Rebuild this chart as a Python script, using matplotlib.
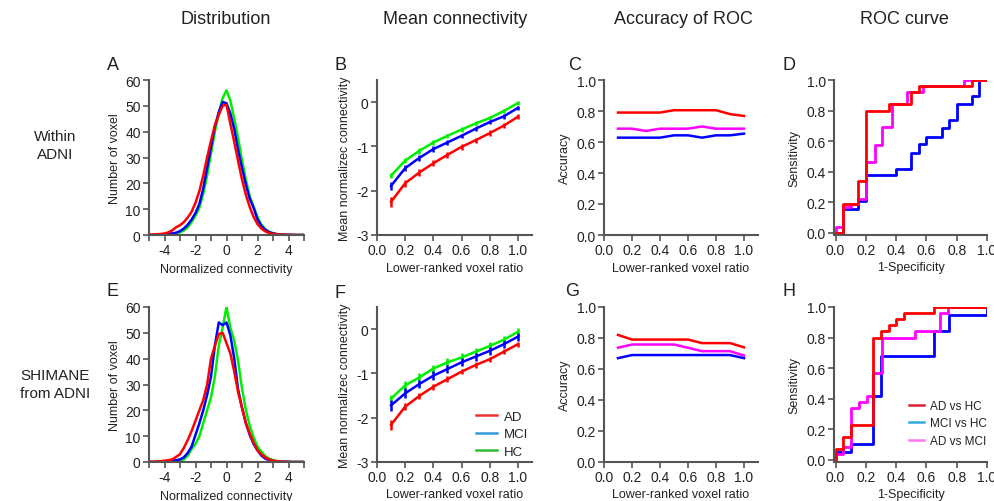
import matplotlib
matplotlib.use('Agg')
import matplotlib.pyplot as plt
from matplotlib.lines import Line2D

plt.rcParams['font.family'] = ['Liberation Sans', 'DejaVu Sans']
plt.rcParams['axes.unicode_minus'] = False

# ---- data ----
conn_x = [-5, -4.75, -4.5, -4.25, -4, -3.75, -3.5, -3.25, -3, -2.75, -2.5, -2.25, -2, -1.75,
          -1.5, -1.25, -1, -0.75, -0.5, -0.25, 0, 0.25, 0.5, 0.75, 1, 1.25, 1.5, 1.75,
          2, 2.25, 2.5, 2.75, 3, 3.25, 3.5, 3.75, 4, 4.25, 4.5, 4.75, 5]

# panel A (within ADNI)
dist_a_hc = [0, 0, 0.1, 0.1, 0.2, 0.3, 0.4, 0.6, 1.0, 1.7, 3.0, 5.0, 7.5, 10.5,
             16, 23, 31.5, 40, 47, 53, 56, 52, 45, 37.5, 29, 21.5, 15, 11,
             7, 4, 2.3, 1.3, 0.7, 0.4, 0.2, 0.1, 0.1, 0, 0, 0, 0]
dist_a_mci = [0, 0, 0.1, 0.2, 0.3, 0.4, 0.6, 0.9, 1.5, 2.5, 4, 6, 8.5, 12,
              18, 26, 34, 42, 47.5, 51.5, 51, 47, 41, 33, 26, 19.5, 14, 10.5,
              6, 3.5, 2, 1.1, 0.6, 0.3, 0.2, 0.1, 0, 0, 0, 0, 0]
dist_a_ad = [0.2, 0.2, 0.3, 0.4, 0.6, 1.0, 1.8, 3.0, 3.8, 5, 6.8, 9, 12.5, 17,
             23, 30, 36.5, 42.5, 46.5, 50, 50.5, 43, 36, 28.5, 21.5, 15.5, 10.8, 7,
             4.2, 2.5, 1.4, 0.8, 0.4, 0.3, 0.2, 0.1, 0.1, 0.1, 0, 0, 0]

# panel E (SHIMANE from ADNI)
dist_e_hc = [0, 0, 0, 0.1, 0.1, 0.2, 0.3, 0.4, 0.5, 1.0, 2.5, 5, 7, 10,
             15, 20, 25, 33, 45, 52, 60, 52, 47, 39, 28.5, 20, 14, 9.5,
             6, 4, 2.3, 1.3, 0.7, 0.4, 0.2, 0.1, 0.1, 0, 0, 0, 0]
dist_e_mci = [0, 0, 0.1, 0.1, 0.2, 0.3, 0.5, 0.7, 1.0, 1.8, 3.5, 6, 10.5, 15,
              20, 26, 33, 45, 54, 53, 54, 49, 40, 28, 21, 15, 10.5, 7,
              4.5, 2.5, 1.3, 0.8, 0.4, 0.2, 0.1, 0.1, 0, 0, 0, 0, 0]
dist_e_ad = [0.1, 0.1, 0.2, 0.3, 0.5, 0.7, 1.0, 2.0, 3.0, 5.5, 8.5, 12, 16, 20,
             24, 30, 40, 45, 49.5, 50, 46, 42, 35, 27, 21, 15, 11, 7.5,
             4.5, 3, 1.8, 1.0, 0.5, 0.3, 0.2, 0.1, 0.1, 0, 0, 0, 0]

ratio = [0.1, 0.2, 0.3, 0.4, 0.5, 0.6, 0.7, 0.8, 0.9, 1.0]

# panel B
mean_b_hc = [-1.66, -1.32, -1.10, -0.91, -0.76, -0.62, -0.48, -0.36, -0.20, -0.02]
mean_b_mci = [-1.89, -1.49, -1.26, -1.06, -0.91, -0.76, -0.60, -0.45, -0.32, -0.13]
mean_b_ad = [-2.25, -1.83, -1.59, -1.38, -1.19, -1.01, -0.86, -0.70, -0.53, -0.33]
err_b_hc = [0.06, 0.06, 0.06, 0.06, 0.05, 0.05, 0.05, 0.05, 0.05, 0.05]
err_b_mci = [0.09, 0.07, 0.06, 0.06, 0.06, 0.05, 0.05, 0.05, 0.05, 0.05]
err_b_ad = [0.11, 0.08, 0.07, 0.07, 0.07, 0.06, 0.06, 0.06, 0.06, 0.06]

# panel F
mean_f_hc = [-1.57, -1.27, -1.09, -0.89, -0.75, -0.64, -0.51, -0.38, -0.24, -0.06]
mean_f_mci = [-1.72, -1.45, -1.24, -1.05, -0.90, -0.75, -0.62, -0.49, -0.34, -0.17]
mean_f_ad = [-2.16, -1.75, -1.51, -1.30, -1.13, -0.96, -0.81, -0.68, -0.51, -0.34]
err_f_hc = [0.09, 0.1, 0.1, 0.09, 0.09, 0.09, 0.09, 0.09, 0.09, 0.09]
err_f_mci = [0.12, 0.11, 0.1, 0.1, 0.1, 0.09, 0.09, 0.09, 0.09, 0.09]
err_f_ad = [0.11, 0.08, 0.07, 0.07, 0.07, 0.06, 0.06, 0.06, 0.06, 0.06]

# panel C / G: accuracy
acc_c_adhc = [0.79, 0.79, 0.79, 0.79, 0.805, 0.805, 0.805, 0.805, 0.78, 0.768]
acc_c_admci = [0.686, 0.686, 0.671, 0.686, 0.686, 0.686, 0.70, 0.686, 0.686, 0.686]
acc_c_mcihc = [0.628, 0.628, 0.628, 0.628, 0.643, 0.643, 0.628, 0.643, 0.643, 0.654]
acc_g_adhc = [0.82, 0.79, 0.79, 0.79, 0.79, 0.79, 0.767, 0.767, 0.767, 0.74]
acc_g_admci = [0.737, 0.758, 0.758, 0.758, 0.758, 0.737, 0.715, 0.715, 0.715, 0.687]
acc_g_mcihc = [0.67, 0.69, 0.69, 0.69, 0.69, 0.69, 0.69, 0.69, 0.69, 0.67]

# panel D / H: ROC curves (fpr, tpr at each step)
fpr_d_adhc = [0, 0.05, 0.15, 0.2, 0.35, 0.5, 0.55, 0.9, 1.0]
tpr_d_adhc = [0, 0.19, 0.34, 0.80, 0.84, 0.92, 0.96, 1.0, 1.0]
fpr_d_admci = [0, 0, 0.05, 0.1, 0.15, 0.2, 0.26, 0.31, 0.37, 0.47, 0.58, 0.85, 1.0]
tpr_d_admci = [0, 0.035, 0.17, 0.19, 0.22, 0.46, 0.575, 0.69, 0.84, 0.92, 0.96, 1.0, 1.0]
fpr_d_mcihc = [0, 0.05, 0.15, 0.2, 0.4, 0.5, 0.55, 0.6, 0.7, 0.75, 0.8, 0.9, 0.95, 1.0]
tpr_d_mcihc = [0, 0.155, 0.21, 0.375, 0.42, 0.525, 0.58, 0.63, 0.685, 0.74, 0.845, 0.895, 1.0, 1.0]

fpr_h_adhc = [0, 0, 0.05, 0.1, 0.25, 0.3, 0.35, 0.4, 0.45, 0.65, 1.0]
tpr_h_adhc = [0, 0.07, 0.15, 0.23, 0.80, 0.84, 0.88, 0.92, 0.96, 1.0, 1.0]
fpr_h_admci = [0, 0, 0.05, 0.1, 0.155, 0.21, 0.25, 0.305, 0.525, 0.69, 0.74, 1.0]
tpr_h_admci = [0, 0.04, 0.08, 0.34, 0.38, 0.42, 0.57, 0.80, 0.84, 0.96, 1.0, 1.0]
fpr_h_mcihc = [0, 0, 0.1, 0.25, 0.3, 0.65, 0.75, 1.0, 1.0]
tpr_h_mcihc = [0, 0.05, 0.10, 0.42, 0.68, 0.84, 0.95, 0.95, 1.0]

RED, BLUE, GREEN, MAG = '#ff0000', '#0000ff', '#00ee00', '#ff00ff'
SPINE = '#555555'
W, H = 994, 502


def px_axes(fig, x0, y0, x1, y1):
    return fig.add_axes([x0 / W, 1 - y1 / H, (x1 - x0) / W, (y1 - y0) / H])


def style(ax):
    for s in ['top', 'right']:
        ax.spines[s].set_visible(False)
    for s in ['left', 'bottom']:
        ax.spines[s].set_color(SPINE)
        ax.spines[s].set_linewidth(1.5)
    ax.tick_params(which='both', direction='out', color=SPINE, width=1.2,
                   labelsize=10, labelcolor='#222222', pad=2)
    ax.tick_params(which='major', length=4)
    ax.tick_params(which='minor', length=4)


fig = plt.figure(figsize=(W / 100, H / 100), dpi=100)

rows = [(81, 236), (308, 463)]
cols = [(149, 304), (377, 532), (604, 758), (834, 987)]

dists = [(dist_a_hc, dist_a_mci, dist_a_ad), (dist_e_hc, dist_e_mci, dist_e_ad)]
means = [(mean_b_hc, mean_b_mci, mean_b_ad, err_b_hc, err_b_mci, err_b_ad),
         (mean_f_hc, mean_f_mci, mean_f_ad, err_f_hc, err_f_mci, err_f_ad)]
accs = [(acc_c_adhc, acc_c_mcihc, acc_c_admci), (acc_g_adhc, acc_g_mcihc, acc_g_admci)]
rocs = [((fpr_d_adhc, tpr_d_adhc), (fpr_d_mcihc, tpr_d_mcihc), (fpr_d_admci, tpr_d_admci)),
        ((fpr_h_adhc, tpr_h_adhc), (fpr_h_mcihc, tpr_h_mcihc), (fpr_h_admci, tpr_h_admci))]

lab_fs = 9
ticks01 = [0, 0.2, 0.4, 0.6, 0.8, 1.0]
labels01 = ['0.0', '0.2', '0.4', '0.6', '0.8', '1.0']

for r, (y0, y1) in enumerate(rows):
    # distribution
    ax = px_axes(fig, cols[0][0], y0, cols[0][1], y1)
    hc, mci, ad = dists[r]
    ax.plot(conn_x, hc, color=GREEN, lw=1.8)
    ax.plot(conn_x, mci, color=BLUE, lw=1.8)
    ax.plot(conn_x, ad, color=RED, lw=1.8)
    ax.set_xlim(-5, 5)
    ax.set_ylim(0, 60)
    ax.set_xticks([-4, -2, 0, 2, 4])
    ax.set_xticks([-5, -3, -1, 1, 3, 5], minor=True)
    ax.set_yticks([0, 10, 20, 30, 40, 50, 60])
    style(ax)
    ax.set_ylabel('Number of voxel', fontsize=lab_fs, color='#222222', labelpad=3)
    ax.set_xlabel('Normalized connectivity', fontsize=lab_fs, color='#222222', labelpad=4)

    # mean connectivity
    ax = px_axes(fig, cols[1][0], y0, cols[1][1], y1)
    hc, mci, ad, ehc, emci, ead = means[r]
    ax.errorbar(ratio, hc, yerr=ehc, color=GREEN, lw=1.8, elinewidth=1.8, capsize=0)
    ax.errorbar(ratio, mci, yerr=emci, color=BLUE, lw=1.8, elinewidth=1.8, capsize=0)
    ax.errorbar(ratio, ad, yerr=ead, color=RED, lw=1.8, elinewidth=1.8, capsize=0)
    ax.set_xlim(0, 1.1)
    ax.set_ylim(-3, 0.5)
    ax.set_xticks(ticks01)
    ax.set_xticklabels(labels01)
    ax.set_yticks([-3, -2, -1, 0])
    style(ax)
    ax.set_ylabel('Mean normalizec connectivity', fontsize=lab_fs, color='#222222', labelpad=4)
    ax.set_xlabel('Lower-ranked voxel ratio', fontsize=lab_fs, color='#222222', labelpad=3)
    if r == 1:
        handles = [Line2D([], [], color='#ee3333', lw=1.8),
                   Line2D([], [], color='#3399dd', lw=1.8),
                   Line2D([], [], color='#33bb33', lw=1.8)]
        ax.legend(handles, ['AD', 'MCI', 'HC'], loc='lower right', frameon=False,
                  fontsize=9.5, handlelength=1.6, handletextpad=0.5, labelspacing=0.4,
                  labelcolor='#222222', bbox_to_anchor=(1.05, -0.05))

    # accuracy
    ax = px_axes(fig, cols[2][0], y0, cols[2][1], y1)
    adhc, mcihc, admci = accs[r]
    ax.plot(ratio, adhc, color=RED, lw=1.8)
    ax.plot(ratio, admci, color=MAG, lw=1.8)
    ax.plot(ratio, mcihc, color=BLUE, lw=1.8)
    ax.set_xlim(0, 1.1)
    ax.set_ylim(0, 1.0)
    ax.set_xticks(ticks01)
    ax.set_xticklabels(labels01)
    ax.set_yticks(ticks01)
    ax.set_yticklabels(labels01)
    style(ax)
    ax.set_ylabel('Accuracy', fontsize=lab_fs, color='#222222', labelpad=4)
    ax.set_xlabel('Lower-ranked voxel ratio', fontsize=lab_fs, color='#222222', labelpad=3)

    # ROC
    ax = px_axes(fig, cols[3][0], y0, cols[3][1], y1)
    (f1, t1), (f2, t2), (f3, t3) = rocs[r]
    ax.plot(f2, t2, color=BLUE, lw=2.0, drawstyle='steps-post')
    ax.plot(f3, t3, color=MAG, lw=2.0, drawstyle='steps-post')
    ax.plot(f1, t1, color=RED, lw=2.0, drawstyle='steps-post')
    ax.set_xlim(-0.01, 1.0)
    ax.set_ylim(-0.015, 1.0)
    ax.set_xticks(ticks01)
    ax.set_xticklabels(labels01)
    ax.set_yticks(ticks01)
    ax.set_yticklabels(labels01)
    style(ax)
    ax.set_ylabel('Sensitivity', fontsize=lab_fs, color='#222222', labelpad=4)
    ax.set_xlabel('1-Specificity', fontsize=lab_fs, color='#222222', labelpad=3)
    if r == 1:
        handles = [Line2D([], [], color='#dd2233', lw=1.8),
                   Line2D([], [], color='#33aadd', lw=1.8),
                   Line2D([], [], color='#ff77ee', lw=1.8)]
        ax.legend(handles, ['AD vs HC', 'MCI vs HC', 'AD vs MCI'], loc='lower right',
                  frameon=False, fontsize=8.5, handlelength=1.3, handletextpad=0.5,
                  labelspacing=0.45, labelcolor='#222222', bbox_to_anchor=(1.07, 0.03))

# column titles, row labels, panel letters
titles = ['Distribution', 'Mean connectivity', 'Accuracy of ROC', 'ROC curve']
title_x = [226, 455, 683, 904]
for t, x in zip(titles, title_x):
    fig.text(x / W, 1 - 20 / H, t, ha='center', va='center', fontsize=13, color='#222222')

fig.text(55 / W, 1 - 146 / H, 'Within\nADNI', ha='center', va='center', fontsize=11,
         color='#222222', linespacing=1.3)
fig.text(55 / W, 1 - 385 / H, 'SHIMANE\nfrom ADNI', ha='center', va='center', fontsize=11,
         color='#222222', linespacing=1.3)

letters = ['A', 'B', 'C', 'D', 'E', 'F', 'G', 'H']
letter_pos = [(107, 65), (335, 66), (568, 66), (783, 66),
              (107, 292), (335, 294), (565, 291), (783, 291)]
for l, (x, y) in zip(letters, letter_pos):
    fig.text(x / W, 1 - y / H, l, ha='left', va='center', fontsize=13, color='#222222')

fig.savefig('out.png', dpi=100)
